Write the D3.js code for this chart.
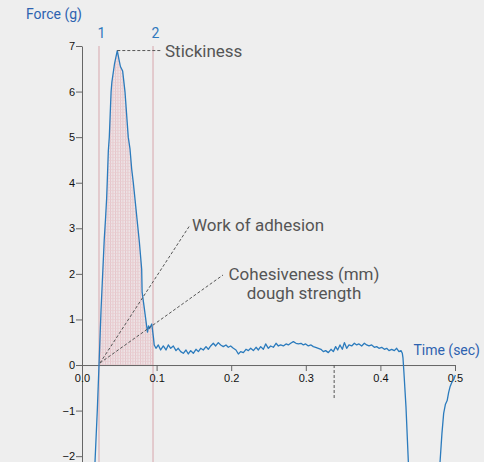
<!DOCTYPE html>
<html>
<head>
<meta charset="utf-8">
<script src="https://cdn.jsdelivr.net/npm/d3@7"></script>
<style>
  body { margin: 0; background: #eeeeee; }
  svg { display: block; }
  .tick text { font-family: "Liberation Sans", Arial, sans-serif; font-size: 11px; fill: #111; }
  .note { font-family: Roboto, sans-serif; font-size: 17px; fill: #555; }
  .blue { font-family: Roboto, sans-serif; font-size: 14px; fill: #2d62b0; }
</style>
</head>
<body>
<div id="chart"></div>
<script>
// force curve: [time (sec), force (g)]
var curve = [
  [0.0150, -2.6], [0.0174, -2.14], [0.0205, -1.0], [0.0228, 0.0], [0.0255, 1.2],
  [0.0280, 2.1], [0.0298, 2.75], [0.0315, 3.2], [0.0330, 3.65], [0.0338, 4.0],
  [0.0353, 4.7], [0.0366, 5.0], [0.0390, 6.0], [0.0400, 6.2], [0.0435, 6.6],
  [0.0473, 6.9], [0.0496, 6.7], [0.0515, 6.55], [0.0545, 6.45], [0.0576, 6.0],
  [0.0620, 5.0], [0.0643, 4.75], [0.0666, 4.3], [0.0688, 4.0], [0.0769, 2.7],
  [0.0800, 2.1], [0.0806, 1.6], [0.0835, 1.25], [0.0867, 0.85], [0.0878, 0.72],
  [0.0892, 0.86], [0.0905, 0.8], [0.0935, 0.9], [0.0958, 0.6], [0.0968, 0.44],
  [0.0992, 0.367], [0.1023, 0.44], [0.1054, 0.33], [0.1090, 0.418], [0.1126, 0.33],
  [0.1157, 0.44], [0.1189, 0.367], [0.1224, 0.418], [0.1260, 0.316], [0.1290, 0.367],
  [0.1323, 0.294], [0.1358, 0.257], [0.1394, 0.33], [0.1425, 0.242], [0.1457, 0.316],
  [0.1492, 0.257], [0.1528, 0.345], [0.1560, 0.294], [0.1591, 0.367], [0.1626, 0.33],
  [0.1662, 0.404], [0.1693, 0.345], [0.1725, 0.418], [0.1760, 0.477], [0.1792, 0.418],
  [0.1827, 0.492], [0.1859, 0.44], [0.1894, 0.404], [0.1930, 0.44], [0.1961, 0.389],
  [0.1993, 0.418], [0.2029, 0.367], [0.2064, 0.33], [0.2096, 0.242], [0.2127, 0.294],
  [0.2163, 0.272], [0.2198, 0.345], [0.2230, 0.316], [0.2261, 0.367], [0.2297, 0.316],
  [0.2333, 0.389], [0.2364, 0.33], [0.2395, 0.404], [0.2431, 0.345], [0.2462, 0.463],
  [0.2498, 0.367], [0.2529, 0.418], [0.2565, 0.389], [0.2601, 0.477], [0.2632, 0.418],
  [0.2663, 0.44], [0.2699, 0.418], [0.2735, 0.463], [0.2766, 0.44], [0.2797, 0.477],
  [0.2833, 0.514], [0.2869, 0.477], [0.2900, 0.463], [0.2936, 0.477], [0.2967, 0.44],
  [0.2998, 0.463], [0.3034, 0.418], [0.3070, 0.44], [0.3101, 0.404], [0.3132, 0.389],
  [0.3168, 0.367], [0.3203, 0.345], [0.3235, 0.294], [0.3266, 0.316], [0.3302, 0.272],
  [0.3338, 0.345], [0.3369, 0.294], [0.3400, 0.404], [0.3427, 0.33], [0.3458, 0.44],
  [0.3490, 0.345], [0.3517, 0.492], [0.3548, 0.367], [0.3579, 0.44], [0.3615, 0.418],
  [0.3651, 0.477], [0.3682, 0.44], [0.3713, 0.463], [0.3749, 0.418], [0.3785, 0.477],
  [0.3816, 0.44], [0.3847, 0.418], [0.3883, 0.44], [0.3919, 0.389], [0.3950, 0.404],
  [0.3981, 0.367], [0.4017, 0.389], [0.4053, 0.345], [0.4084, 0.367], [0.4115, 0.316],
  [0.4151, 0.345], [0.4187, 0.316], [0.4218, 0.367], [0.4249, 0.294], [0.4276, 0.316],
  [0.4294, 0.257], [0.4303, 0.15], [0.4316, -0.18], [0.4343, -0.92], [0.4375, -2.14],
  [0.4405, -2.9], [0.4765, -2.9], [0.4799, -2.14], [0.4825, -1.5], [0.4848, -1.06],
  [0.4872, -0.86], [0.4895, -0.78], [0.4915, -0.6], [0.4935, -0.47], [0.4958, -0.38],
  [0.4985, -0.31], [0.5005, -0.22]
];

var xTicks = [0, 0.1, 0.2, 0.3, 0.4, 0.5];
var yTicks = [-2, -1, 0, 1, 2, 3, 4, 5, 6, 7];

// the two measuring points
var markers = [{ t: 0.0228, label: "1" }, { t: 0.0952, label: "2" }];

// annotation leader lines, data coords
var peak = [0.0473, 6.9];
var origin = [0.0241, 0.044];
var stickEnd = [0.107, 6.9];
var workEnd = [0.1448, 3.07];
var cohEnd = [0.189, 1.975];
var dashMark = { t: 0.338, from: 0, to: -0.73 };

var W = 484, H = 462;
var x = d3.scaleLinear().domain([0, 0.5]).range([82, 455]);
var y = d3.scaleLinear().domain([-2.15, 7]).range([463, 46]);

var svg = d3.select("#chart").append("svg")
  .attr("width", W)
  .attr("height", H);

svg.append("rect").attr("width", W).attr("height", H).attr("fill", "#eeeeee");

var defs = svg.append("defs");
defs.append("clipPath").attr("id", "clip")
  .append("rect").attr("x", 0).attr("y", 0).attr("width", W).attr("height", H);

var pat = defs.append("pattern")
  .attr("id", "hatch")
  .attr("patternUnits", "userSpaceOnUse")
  .attr("width", 2.5).attr("height", 3);
pat.append("rect").attr("width", 2.5).attr("height", 3).attr("fill", "#ede3e5");
pat.append("line").attr("x1", 0.5).attr("x2", 0.5).attr("y1", 0).attr("y2", 3)
  .attr("stroke", "#e3bcc1").attr("stroke-width", 0.8);
pat.append("line").attr("x1", 0).attr("x2", 2.5).attr("y1", 1.5).attr("y2", 1.5)
  .attr("stroke", "#e8ccd0").attr("stroke-width", 0.6);

defs.append("clipPath").attr("id", "band")
  .append("rect")
  .attr("x", x(markers[0].t)).attr("y", 0)
  .attr("width", x(markers[1].t) - x(markers[0].t)).attr("height", y(0));

// shaded work area under the curve between 1 and 2
var area = d3.area()
  .x(function(d) { return x(d[0]); })
  .y0(y(0))
  .y1(function(d) { return y(Math.max(0, d[1])); });

svg.append("path")
  .datum(curve.filter(function(d) { return d[0] < 0.12; }))
  .attr("clip-path", "url(#band)")
  .attr("fill", "url(#hatch)")
  .attr("d", area);

// vertical marker lines
svg.selectAll(".marker")
  .data(markers)
  .enter().append("line")
  .attr("class", "marker")
  .attr("x1", function(d) { return x(d.t); })
  .attr("x2", function(d) { return x(d.t); })
  .attr("y1", y(7))
  .attr("y2", H)
  .attr("stroke", "#d7a7ad")
  .attr("stroke-width", 1);

svg.selectAll(".mlabel")
  .data(markers)
  .enter().append("text")
  .attr("class", "blue")
  .attr("x", function(d) { return x(d.t) + 2.5; })
  .attr("y", 38)
  .attr("text-anchor", "middle")
  .style("fill", "#2f78bd")
  .text(function(d) { return d.label; });

// axes
var yAxis = svg.append("g")
  .attr("transform", "translate(" + x(0) + ",0)")
  .call(d3.axisLeft(y).tickValues(yTicks).tickSize(6).tickSizeOuter(0).tickPadding(1).tickFormat(d3.format("d")));

var xAxis = svg.append("g")
  .attr("transform", "translate(0," + y(0) + ")")
  .call(d3.axisBottom(x).tickValues(xTicks).tickSize(6).tickSizeOuter(0).tickPadding(3).tickFormat(d3.format(".1f")));

svg.selectAll(".domain, .tick line").attr("stroke", "#666");

// force curve
var line = d3.line()
  .x(function(d) { return x(d[0]); })
  .y(function(d) { return y(d[1]); });

svg.append("path")
  .datum(curve)
  .attr("clip-path", "url(#clip)")
  .attr("fill", "none")
  .attr("stroke", "#2b7bbd")
  .attr("stroke-width", 1.3)
  .attr("stroke-linejoin", "round")
  .attr("d", line);

// leader lines
var leaders = [[peak, stickEnd], [origin, workEnd], [origin, cohEnd]];
svg.selectAll(".leader")
  .data(leaders)
  .enter().append("line")
  .attr("class", "leader")
  .attr("x1", function(d) { return x(d[0][0]); })
  .attr("y1", function(d) { return y(d[0][1]); })
  .attr("x2", function(d) { return x(d[1][0]); })
  .attr("y2", function(d) { return y(d[1][1]); })
  .attr("stroke", "#555")
  .attr("stroke-width", 1)
  .attr("stroke-dasharray", "3,2");

svg.append("line")
  .attr("x1", x(dashMark.t)).attr("x2", x(dashMark.t))
  .attr("y1", y(dashMark.from)).attr("y2", y(dashMark.to))
  .attr("stroke", "#555")
  .attr("stroke-width", 1)
  .attr("stroke-dasharray", "3,2");

// text
svg.append("text").attr("class", "note").attr("x", 165).attr("y", 57).text("Stickiness");
svg.append("text").attr("class", "note").attr("x", 192).attr("y", 231).text("Work of adhesion");
svg.append("text").attr("class", "note").attr("x", 304).attr("y", 280)
  .attr("text-anchor", "middle").text("Cohesiveness (mm)");
svg.append("text").attr("class", "note").attr("x", 304).attr("y", 299)
  .attr("text-anchor", "middle").text("dough strength");

svg.append("text").attr("class", "blue").attr("x", 26).attr("y", 19).text("Force (g)");
svg.append("text").attr("class", "blue").attr("x", 480).attr("y", 355)
  .attr("text-anchor", "end").text("Time (sec)");
</script>
</body>
</html>
